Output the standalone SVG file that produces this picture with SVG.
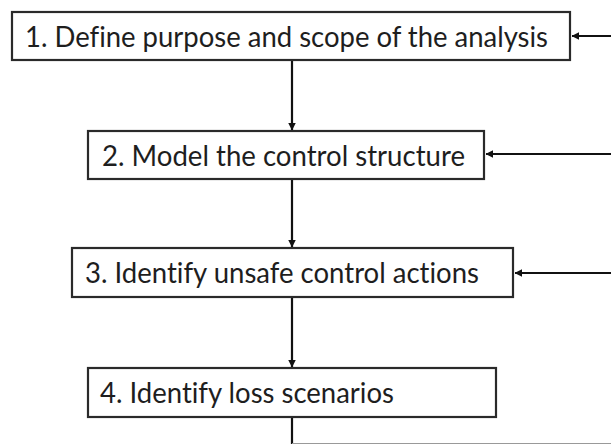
<svg xmlns="http://www.w3.org/2000/svg" width="611" height="444" viewBox="0 0 611 444">
<style>
.box{fill:#fff;stroke:#2a2a2a;stroke-width:2.2}
.lbl{font-family:Lato,"Open Sans","Liberation Sans",sans-serif;font-size:28px;fill:#1e1e1e;font-variant-ligatures:none;font-feature-settings:"liga" 0,"clig" 0}
.conn{stroke:#111;stroke-width:2.2;fill:none}
</style>
<defs>
<marker id="ah" viewBox="0 0 8 8" refX="7.5" refY="4" markerWidth="3.4" markerHeight="3.4" orient="auto" markerUnits="strokeWidth">
<path d="M0,0 L8,4 L0,8 z" fill="#111"/>
</marker>
</defs>
<rect width="611" height="444" fill="#fff"/>
<g id="connectors">
<line class="conn" x1="292" y1="60" x2="292" y2="130" marker-end="url(#ah)"/>
<line class="conn" x1="292" y1="179" x2="292" y2="247" marker-end="url(#ah)"/>
<line class="conn" x1="292" y1="297" x2="292" y2="367" marker-end="url(#ah)"/>
<line class="conn" x1="292" y1="417" x2="292" y2="444"/>
<line x1="292" y1="443.5" x2="611" y2="443.5" stroke="#999" stroke-width="1.2"/>
<line class="conn" x1="611" y1="36" x2="572" y2="36" marker-end="url(#ah)"/>
<line class="conn" x1="611" y1="154" x2="486" y2="154" marker-end="url(#ah)"/>
<line class="conn" x1="611" y1="273" x2="515" y2="273" marker-end="url(#ah)"/>
</g>
<g id="node1">
<rect class="box" x="12" y="12" width="558" height="48"/>
<text class="lbl" x="25" y="46.5" textLength="523" lengthAdjust="spacingAndGlyphs">1. Define purpose and scope of the analysis</text>
</g>
<g id="node2">
<rect class="box" x="88" y="131" width="396" height="48"/>
<text class="lbl" x="102" y="165.5" textLength="363" lengthAdjust="spacingAndGlyphs">2. Model the control structure</text>
</g>
<g id="node3">
<rect class="box" x="72" y="248" width="441" height="49"/>
<text class="lbl" x="85" y="283" textLength="394" lengthAdjust="spacingAndGlyphs">3. Identify unsafe control actions</text>
</g>
<g id="node4">
<rect class="box" x="88" y="368" width="408" height="49"/>
<text class="lbl" x="100" y="403" textLength="294" lengthAdjust="spacingAndGlyphs">4. Identify loss scenarios</text>
</g>
</svg>
